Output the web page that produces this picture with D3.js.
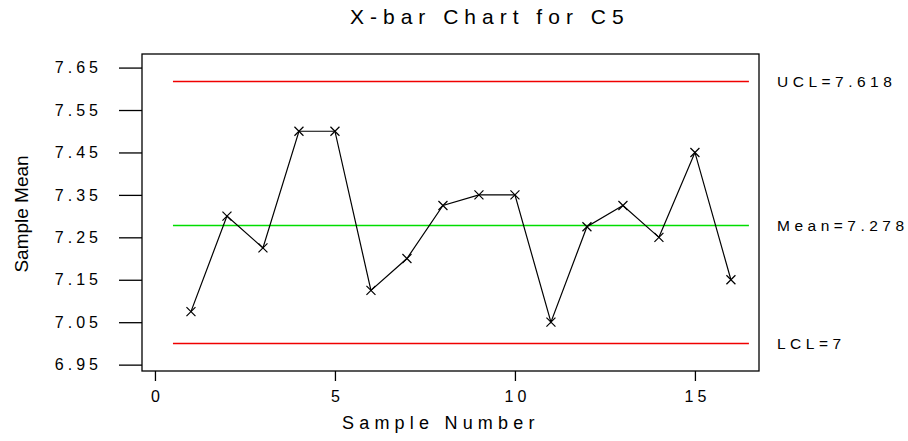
<!DOCTYPE html>
<html>
<head>
<meta charset="utf-8">
<script src="https://cdn.jsdelivr.net/npm/d3@7"></script>
<style>
  body { margin: 0; background: #fff; }
  svg { display: block; font-family: "Liberation Sans", Arial, Helvetica, sans-serif; }
</style>
</head>
<body>
<div id="chart"></div>
<script>
// sample means
const samples = [1, 2, 3, 4, 5, 6, 7, 8, 9, 10, 11, 12, 13, 14, 15, 16];
const means = [7.075, 7.3, 7.225, 7.5, 7.5, 7.125, 7.2, 7.325, 7.35, 7.35, 7.05, 7.275, 7.325, 7.25, 7.45, 7.15];
const limitNames = ["UCL", "Mean", "LCL"];
const limitValues = [7.618, 7.278, 7];
const limitLabels = ["UCL=7.618", "Mean=7.278", "LCL=7"];
const yTicks = [6.95, 7.05, 7.15, 7.25, 7.35, 7.45, 7.55, 7.65];
const xTicks = [0, 5, 10, 15];

const width = 908,
  height = 441;
const margin = { top: 54, right: 149, bottom: 70, left: 142 };

const svg = d3
  .select("#chart")
  .append("svg")
  .attr("width", width)
  .attr("height", height);

const x = d3
  .scaleLinear()
  .domain([-0.36, 16.78])
  .range([margin.left, width - margin.right]);

const y = d3
  .scaleLinear()
  .domain([6.935, 7.682])
  .range([height - margin.bottom, margin.top]);

// frame
svg
  .append("rect")
  .attr("x", margin.left)
  .attr("y", margin.top)
  .attr("width", width - margin.left - margin.right)
  .attr("height", height - margin.top - margin.bottom)
  .attr("fill", "none")
  .attr("stroke", "#000")
  .attr("stroke-width", 1.3);

// y axis
const yAxis = svg
  .append("g")
  .attr("transform", `translate(${margin.left},0)`)
  .call(
    d3
      .axisLeft(y)
      .tickValues(yTicks)
      .tickSize(23)
      .tickPadding(17)
      .tickFormat(d3.format(".2f")),
  );
yAxis.select(".domain").remove();
yAxis.selectAll(".tick line").attr("stroke", "#000").attr("stroke-width", 1.3);
yAxis
  .selectAll(".tick text")
  .attr("font-size", 16)
  .attr("letter-spacing", 4)
  .attr("fill", "#000");

// x axis
const xAxis = svg
  .append("g")
  .attr("transform", `translate(0,${height - margin.bottom})`)
  .call(d3.axisBottom(x).tickValues(xTicks).tickSize(10).tickPadding(10));
xAxis.select(".domain").remove();
xAxis.selectAll(".tick line").attr("stroke", "#000").attr("stroke-width", 1.3);
xAxis
  .selectAll(".tick text")
  .attr("font-size", 16)
  .attr("letter-spacing", 4)
  .attr("dx", 2)
  .attr("fill", "#000");

// control limits (snapped to pixel centres so the thin lines stay sharp)
const limitColors = { UCL: "#f00000", Mean: "#00dd00", LCL: "#f00000" };
limitNames.forEach((name, i) => {
  const ly = Math.round(y(limitValues[i])) + 0.5;
  svg
    .append("line")
    .attr("x1", x(0.5))
    .attr("x2", x(16.5))
    .attr("y1", ly)
    .attr("y2", ly)
    .attr("stroke", limitColors[name])
    .attr("stroke-width", 1.3);
  svg
    .append("text")
    .attr("x", width - margin.right + 18)
    .attr("y", y(limitValues[i]))
    .attr("dy", "0.35em")
    .attr("font-size", 15.5)
    .attr("letter-spacing", 4.5)
    .text(limitLabels[i]);
});

// data line
const line = d3
  .line()
  .x((d, i) => x(samples[i]))
  .y((d) => y(d));

svg
  .append("path")
  .datum(means)
  .attr("fill", "none")
  .attr("stroke", "#000")
  .attr("stroke-width", 1.2)
  .attr("d", line);

// x markers
const s = 4.5;
svg
  .append("g")
  .selectAll("path")
  .data(means)
  .join("path")
  .attr("transform", (d, i) => `translate(${x(samples[i])},${y(d)})`)
  .attr("d", `M${-s},${-s}L${s},${s}M${-s},${s}L${s},${-s}`)
  .attr("stroke", "#000")
  .attr("stroke-width", 1.2);

// titles
svg
  .append("text")
  .attr("x", 350)
  .attr("y", 24)
  .attr("font-size", 21)
  .attr("letter-spacing", 6)
  .text("X-bar Chart for C5");

svg
  .append("text")
  .attr("x", 342)
  .attr("y", 429)
  .attr("font-size", 18)
  .attr("letter-spacing", 5.2)
  .text("Sample Number");

svg
  .append("text")
  .attr("transform", `translate(28,214) rotate(-90)`)
  .attr("text-anchor", "middle")
  .attr("font-size", 19)
  .text("Sample Mean");
</script>
</body>
</html>
